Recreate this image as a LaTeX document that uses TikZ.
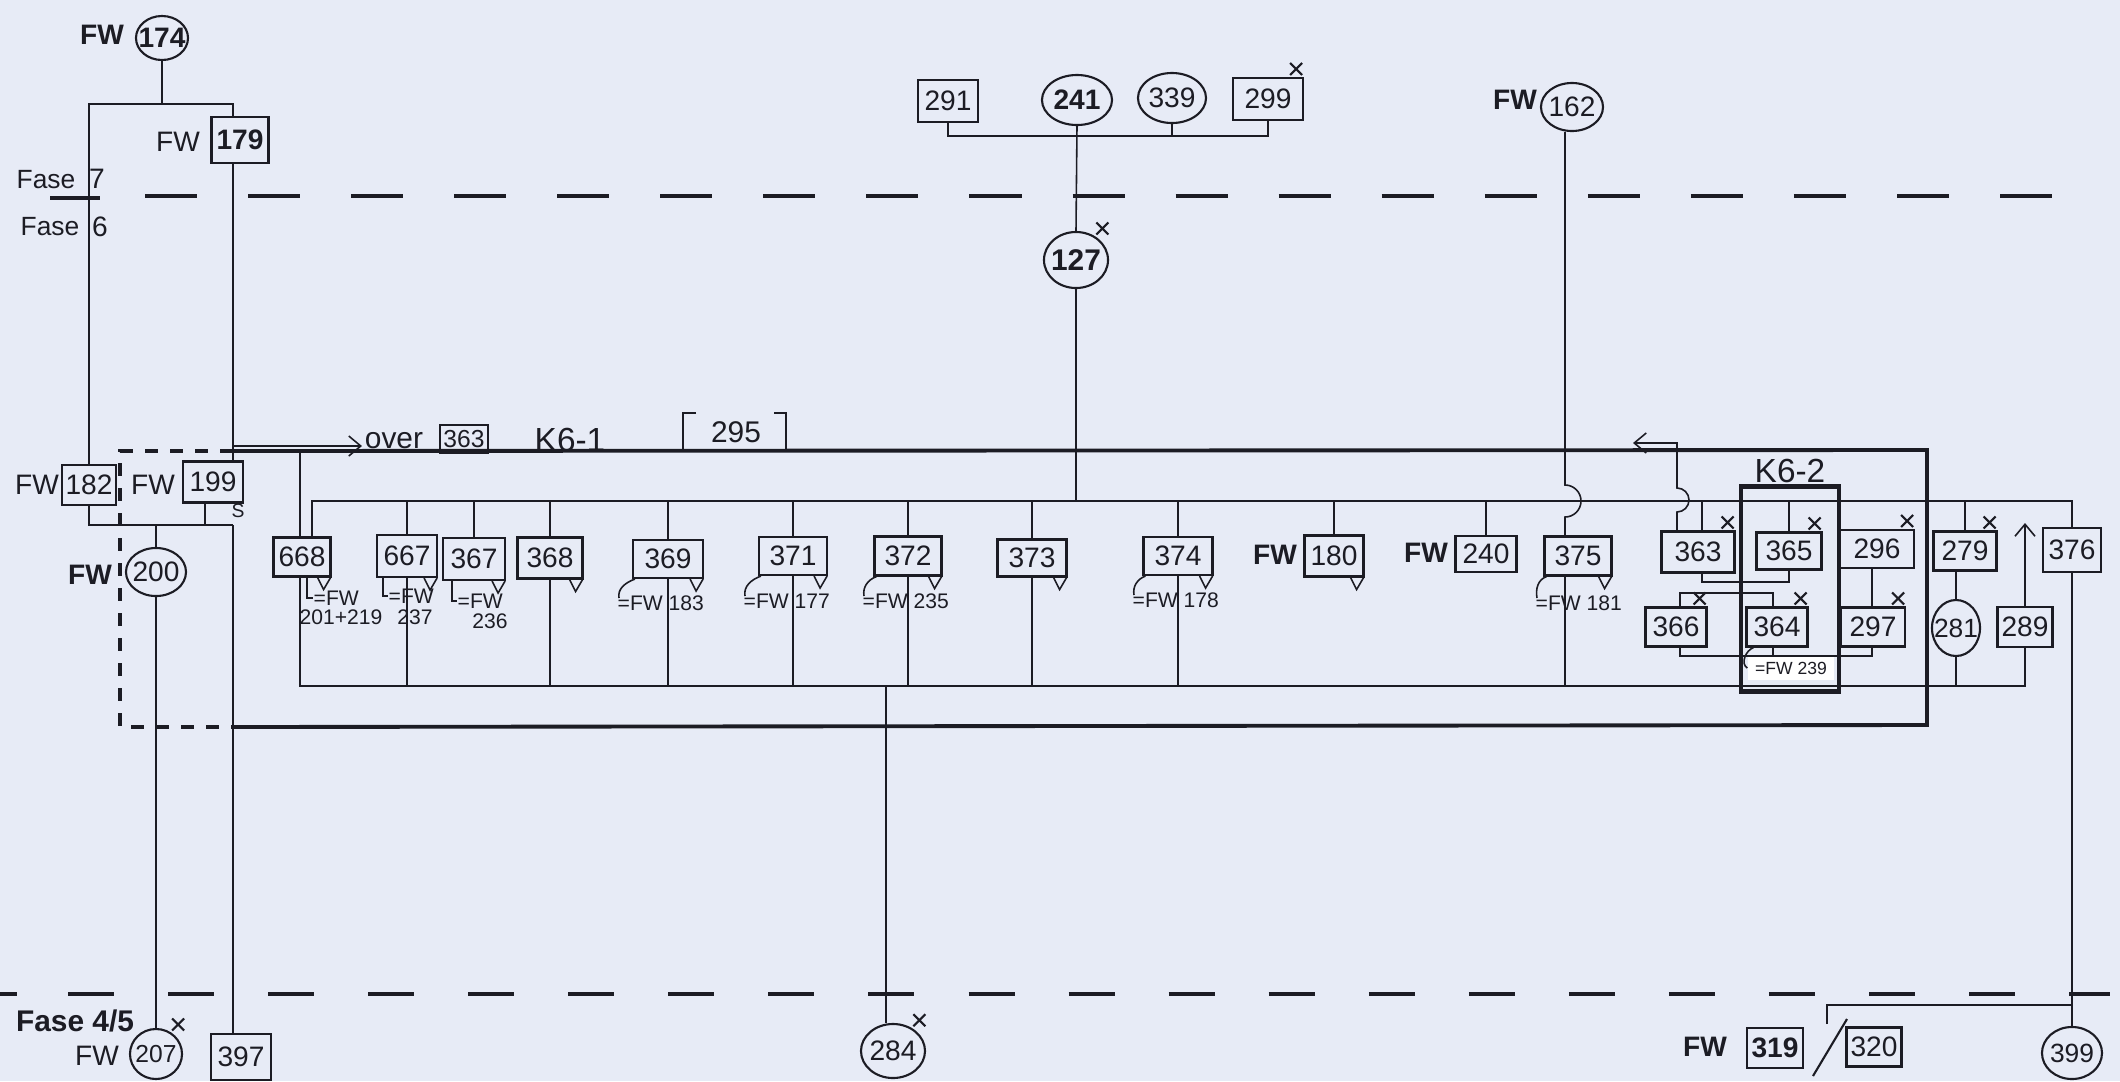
\documentclass[tikz,border=0pt]{standalone}
\usepackage{fontspec}
\setmainfont{Liberation Sans}
\usetikzlibrary{arrows.meta,shapes.geometric}
\definecolor{paper}{RGB}{231,235,246}
\definecolor{ink}{RGB}{28,28,36}
\newcommand\fsz[1]{\fontsize{#1}{#1}\selectfont}
\newcommand\mytri[1]{\draw[ln] ([xshift=-0.14cm]#1.south east) -- ++(0.06cm,-0.12cm) -- ++(0.07cm,0.12cm);}
\newcommand\mkX[1]{\draw[ln,line width=0.6pt] ([xshift=-0.14cm,yshift=0.02cm]#1.north east) -- ++(0.12cm,0.12cm) ([xshift=-0.14cm,yshift=0.14cm]#1.north east) -- ++(0.12cm,-0.12cm);}
\newcommand\mkXc[1]{\draw[ln,line width=0.6pt] ([xshift=-0.03cm,yshift=0.05cm]#1.north east) -- ++(0.12cm,0.12cm) ([xshift=-0.03cm,yshift=0.17cm]#1.north east) -- ++(0.12cm,-0.12cm);}
\begin{document}
\begin{tikzpicture}[x=0.01cm,y=-0.01cm,
  bx/.style={draw=ink,line width=0.6pt,inner sep=0pt,minimum width=0.62cm,minimum height=0.40cm,font=\fsz{8},text=ink},
  el/.style={draw=ink,ellipse,line width=0.6pt,inner xsep=-3pt,inner ysep=-1.5pt,minimum width=0.62cm,minimum height=0.50cm,font=\fsz{8},text=ink},
  ln/.style={draw=ink,line width=0.45pt},
  frm/.style={draw=ink,line width=1.1pt},
  phase/.style={draw=ink,line width=1.1pt,dash pattern=on 0.52cm off 0.51cm},
  lbl/.style={font=\fsz{6},inner sep=0pt,text=ink},
  fw/.style={font=\bfseries\fsz{8},inner sep=0pt,text=ink},
  fwn/.style={font=\fsz{8},inner sep=0pt,text=ink},
  tip/.style={-{Straight Barb[length=0.12cm,width=0.2cm]}},
]
\fill[paper] (0,0) rectangle (2120,1081);
\useasboundingbox (0,0) rectangle (2120,1081);

% ---------- phase lines ----------
\draw[phase] (145,196) -- (2095,196);
\draw[phase,solid] (50,198) -- (100,198);
\draw[phase,dash pattern=on 0.46cm off 0.54cm] (68,994) -- (2110,994);
\draw[phase,solid] (0,994) -- (17,994);
\node[fwn,font=\fsz{7.5}] (fase7) at (46,180) {Fase};
\node[fwn] (f7) at (97,179) {7};
\node[fwn,font=\fsz{7.5}] (fase6) at (50,227) {Fase};
\node[fwn] (f6) at (100,227) {6};
\node[fw,font=\bfseries\fsz{8.5}] (fase45) at (75,1021) {Fase 4/5};

% ---------- top left ----------
\node[el,font=\bfseries\fsz{8},minimum width=0.52cm,minimum height=0.44cm] (c174) at (162,38) {174};
\node[fw] (fw174) at (102,35) {FW};
\node[bx,font=\bfseries\fsz{8},minimum width=0.57cm,minimum height=0.46cm] (b179) at (240,140) {179};
\node[fwn] (fw179) at (178,142) {FW};
\node[bx,minimum width=0.54cm] (b182) at (89,485) {182};
\node[fwn] (fw182) at (37,485) {FW};
\node[bx,minimum width=0.60cm,minimum height=0.41cm] (b199) at (213,482) {199};
\node[fwn] (fw199) at (153,485) {FW};
\node[lbl,font=\fsz{5.5}] (s199) at (238,511) {S};
\node[el,minimum width=0.60cm,minimum height=0.48cm] (c200) at (156,572) {200};
\node[fw] (fw200) at (90,575) {FW};
\node[el,font=\fsz{7},minimum width=0.52cm,minimum height=0.50cm] (c207) at (156,1054) {207};
\node[fwn] (fw207) at (97,1056) {FW};
\node[bx,minimum width=0.60cm,minimum height=0.46cm] (b397) at (241,1057) {397};

\coordinate (vL) at (233,0);
\coordinate (k174) at (162,104);
\coordinate (jL) at (233,525);
\draw[ln] (c174.south) -- (k174);
\draw[ln] (b182.north) |- (vL |- k174) -- (vL |- b179.north);
\draw[ln] (vL |- b179.south) -- (vL |- b199.north);
\draw[ln] (b182.south) |- (jL);
\coordinate (s199b) at ([xshift=-0.08cm]b199.south);
\draw[ln] (s199b) -- (s199b |- jL);
\draw[ln] (c200.north) -- (c200.north |- jL);
\draw[ln] (jL) -- (jL |- b397.north);
\draw[ln] (c200.south) -- (c207.north);

% ---------- frame ----------
\coordinate (fTL) at (233,451);
\coordinate (fTR) at (1927,450);
\coordinate (fBR) at (1927,725);
\coordinate (fBL) at (233,727);
\coordinate (fLx) at (120,0);
\draw[frm] (fTL) -- (fTR) -- (fBR) -- (fBL);
\draw[frm,line width=1.4pt,dash pattern=on 0.13cm off 0.12cm] (fTL) -- (fLx |- fTL) -- (fLx |- fBL) -- (fBL);

\coordinate (aS) at (233,446);
\coordinate (aE) at (362,446);
\draw[ln,tip] (aS) -- (aE);
\node[fwn,font=\fsz{8.5}] (over) at (394,441) {over};
\node[bx,minimum width=0.48cm,minimum height=0.28cm,font=\fsz{7}] (b363o) at (464,439) {363};
\node[fwn,font=\fsz{9.5}] (k61) at (570,440) {K6-1};
\node[fwn,font=\fsz{8.5}] (n295) at (736,432) {295};
\draw[ln,line width=0.6pt] (696,413) -- (683,413) -- (683,451) -- (696,451);
\draw[ln,line width=0.6pt] (774,413) -- (786,413) -- (786,451) -- (774,451);

% ---------- top centre ----------
\node[bx,minimum width=0.60cm,minimum height=0.42cm] (b291) at (948,101) {291};
\node[el,font=\bfseries\fsz{8},minimum width=0.70cm,minimum height=0.50cm] (c241) at (1077,100) {241};
\node[el,minimum width=0.68cm,minimum height=0.50cm] (c339) at (1172,98) {339};
\node[bx,minimum width=0.70cm,minimum height=0.42cm] (b299) at (1268,99) {299};
\coordinate (tb) at (0,136);
\draw[ln] (b291.south) |- (b299.south |- tb) -- (b299.south);
\draw[ln] (c339.south) -- (c339.south |- tb);
\node[el,font=\bfseries\fsz{8.5},minimum width=0.64cm,minimum height=0.56cm] (c127) at (1076,260) {127};
\draw[ln] (c241.south) -- (c127.north);
\coordinate (ib) at (0,501);
\coordinate (bb) at (0,686);
\draw[ln] (c127.south) -- (c127.south |- ib);

\node[el,minimum width=0.62cm,minimum height=0.48cm] (c162) at (1572,107) {162};
\node[fw] (fw162) at (1515,100) {FW};

% ---------- main row ----------
\node[bx,minimum width=0.57cm,minimum height=0.39cm] (b668) at (302,557) {668};
\node[bx,minimum width=0.60cm,minimum height=0.42cm] (b667) at (407,556) {667};
\node[bx,minimum width=0.62cm,minimum height=0.42cm] (b367) at (474,559) {367};
\node[bx,minimum width=0.65cm,minimum height=0.41cm] (b368) at (550,558) {368};
\node[bx,minimum width=0.70cm,minimum height=0.38cm] (b369) at (668,559) {369};
\node[bx,minimum width=0.68cm,minimum height=0.38cm] (b371) at (793,556) {371};
\node[bx,minimum width=0.67cm,minimum height=0.39cm] (b372) at (908,556) {372};
\node[bx,minimum width=0.69cm,minimum height=0.37cm] (b373) at (1032,558) {373};
\node[bx,minimum width=0.69cm,minimum height=0.38cm] (b374) at (1178,556) {374};
\node[bx,minimum width=0.59cm,minimum height=0.41cm] (b180) at (1334,556) {180};
\node[fw] (fw180) at (1275,555) {FW};
\node[bx,minimum width=0.61cm,minimum height=0.36cm] (b240) at (1486,554) {240};
\node[fw] (fw240) at (1426,553) {FW};
\node[bx,minimum width=0.67cm,minimum height=0.39cm] (b375) at (1578,556) {375};
\node[bx,minimum width=0.73cm,minimum height=0.41cm] (b363) at (1698,552) {363};
\node[bx,minimum width=0.65cm,minimum height=0.37cm] (b365) at (1789,551) {365};
\node[bx,minimum width=0.74cm,minimum height=0.38cm] (b296) at (1877,549) {296};
\node[bx,minimum width=0.63cm,minimum height=0.39cm] (b279) at (1965,551) {279};
\node[bx,minimum width=0.58cm,minimum height=0.44cm] (b376) at (2072,550) {376};
\node[bx,minimum width=0.61cm,minimum height=0.39cm] (b366) at (1676,627) {366};
\node[bx,minimum width=0.61cm,minimum height=0.39cm] (b364) at (1777,627) {364};
\node[bx,minimum width=0.64cm,minimum height=0.39cm] (b297) at (1873,627) {297};
\node[el,font=\fsz{7.5},minimum width=0.48cm,minimum height=0.56cm] (c281) at (1956,628) {281};
\node[bx,minimum width=0.55cm,minimum height=0.40cm] (b289) at (2025,627) {289};

% buses
\draw[ln] ([xshift=0.10cm]b668.north) |- (b376.north |- ib) -- (b376.north);
\coordinate (s668t) at ([xshift=-0.02cm]b668.north);
\draw[ln] (s668t) -- (s668t |- fTL);
\coordinate (s668b) at ([xshift=-0.02cm]b668.south);
\draw[ln] (s668b) |- (b289.south |- bb) -- (b289.south);
\foreach \n in {b667,b367,b368,b369,b371,b372,b373,b374,b180,b240,b365,b279}
  {\draw[ln] (\n.north) -- (\n.north |- ib);}
\foreach \n in {b667,b368,b369,b371,b372,b373,b374}
  {\draw[ln] (\n.south) -- (\n.south |- bb);}
\coordinate (s363t) at ([xshift=0.04cm]b363.north);
\draw[ln] (s363t) -- (s363t |- ib);

% 162 line with hop
\coordinate (v162) at (1565,0);
\coordinate (h162) at (1565,485);
\draw[ln] (v162 |- c162.south) -- (h162) arc[start angle=90,end angle=-90,radius=0.16cm] -- (v162 |- b375.north);
\draw[ln] (v162 |- b375.south) -- (v162 |- bb);

% 363 return arrow with hop
\coordinate (a363) at (1677,0);
\coordinate (h363) at (1677,512);
\coordinate (a363e) at (1633,443);
\draw[ln,tip] (a363 |- b363.north) -- (h363) arc[start angle=-90,end angle=90,radius=0.12cm] -- (a363 |- a363e) -- (a363e);

% K6-2
\node[draw=ink,line width=1.2pt,minimum width=0.98cm,minimum height=2.05cm,inner sep=0pt] (k62box) at (1790,589) {};
\node[fwn,font=\fsz{9.5}] (k62) at (1790,471) {K6-2};
\coordinate (j1) at (0,582);
\coordinate (j2) at (0,593);
\coordinate (j3) at (0,656);
\coordinate (s363b) at ([xshift=0.04cm]b363.south);
\draw[ln] (s363b) |- (b365.south |- j1) -- (b365.south);
\coordinate (s366t) at ([xshift=0.04cm]b366.north);
\coordinate (s364t) at ([xshift=-0.04cm]b364.north);
\draw[ln] (s366t) |- (s364t |- j2) -- (s364t);
\coordinate (s366b) at ([xshift=0.04cm]b366.south);
\coordinate (s364b) at ([xshift=-0.04cm]b364.south);
\coordinate (s297b) at ([xshift=-0.01cm]b297.south);
\draw[ln] (s366b) |- (s297b |- j3) -- (s297b);
\draw[ln] (s364b) -- (s364b |- j3);
\coordinate (s296) at ([xshift=-0.05cm]b296.south);
\draw[ln] (s296) -- (s296 |- b297.north);
\draw[ln] (c281.north |- b279.south) -- (c281.north);
\draw[ln] (c281.south) -- (c281.south |- bb);
\coordinate (u289) at (0,523);
\draw[ln,tip] (b289.north) -- (b289.north |- u289);
\node[lbl,font=\fsz{5},fill=white,inner xsep=2pt,inner ysep=1.5pt] (l364) at (1791,668) {=FW 239};
\draw[ln] ([xshift=0.08cm]b364.south west) to[out=200,in=150] (l364.west);

% bottom right
\node[fw] (fw319) at (1705,1047) {FW};
\node[bx,font=\bfseries\fsz{8},minimum width=0.56cm,minimum height=0.40cm] (b319) at (1775,1048) {319};
\node[bx,minimum width=0.55cm,minimum height=0.39cm] (b320) at (1874,1047) {320};
\node[el,font=\fsz{7.5},minimum width=0.60cm,minimum height=0.52cm] (c399) at (2072,1053) {399};
\draw[ln] (b376.south) -- (b376.south |- c399.north);
\coordinate (k320t) at (1827,1005);
\coordinate (k320b) at (1827,1024);
\draw[ln] (k320b) -- (k320t) -- (b376.south |- k320t);
\draw[ln,line width=0.6pt] (1847,1019) -- (1813,1076);

% 284
\node[el,minimum width=0.64cm,minimum height=0.54cm] (c284) at (893,1051) {284};
\coordinate (v284) at (886,0);
\draw[ln] (v284 |- bb) -- (v284 |- c284.north);

% ---------- equivalence labels ----------
\node[lbl,anchor=west] (l668) at (313,598) {=FW};
\node[lbl] (l668b) at (341,617) {201+219};
\coordinate (s668L) at ([xshift=0.05cm]b668.south);
\draw[ln] (s668L) |- (l668.west);
\node[lbl,anchor=west] (l667) at (388,596) {=FW};
\node[lbl] (l667b) at (415,617) {237};
\coordinate (s667L) at ([xshift=-0.24cm]b667.south);
\draw[ln] (s667L) |- (l667.west);
\node[lbl,anchor=west] (l367) at (457,601) {=FW};
\node[lbl] (l367b) at (490,621) {236};
\coordinate (s367L) at ([xshift=-0.22cm]b367.south);
\draw[ln] (s367L) |- (l367.west);

\node[lbl,anchor=west] (l369) at (617,603) {=FW 183};
\node[lbl,anchor=west] (l371) at (743,601) {=FW 177};
\node[lbl,anchor=west] (l372) at (862,601) {=FW 235};
\node[lbl,anchor=west] (l374) at (1132,600) {=FW 178};
\node[lbl,anchor=west] (l375) at (1535,603) {=FW 181};
\foreach \b/\l in {b369/l369,b371/l371,b372/l372,b374/l374,b375/l375}
  {\draw[ln] ([xshift=0.03cm]\b.south west) to[out=200,in=100] ([xshift=0.02cm,yshift=0.05cm]\l.west);}

% ---------- tails and crosses ----------
\foreach \n in {b668,b667,b367,b368,b369,b371,b372,b373,b374,b180,b375}
  {\mytri{\n}}
\foreach \n in {b299,b363,b365,b296,b279,b366,b364,b297}
  {\mkX{\n}}
\foreach \n in {c127,c207,c284}
  {\mkXc{\n}}
\end{tikzpicture}
\end{document}
